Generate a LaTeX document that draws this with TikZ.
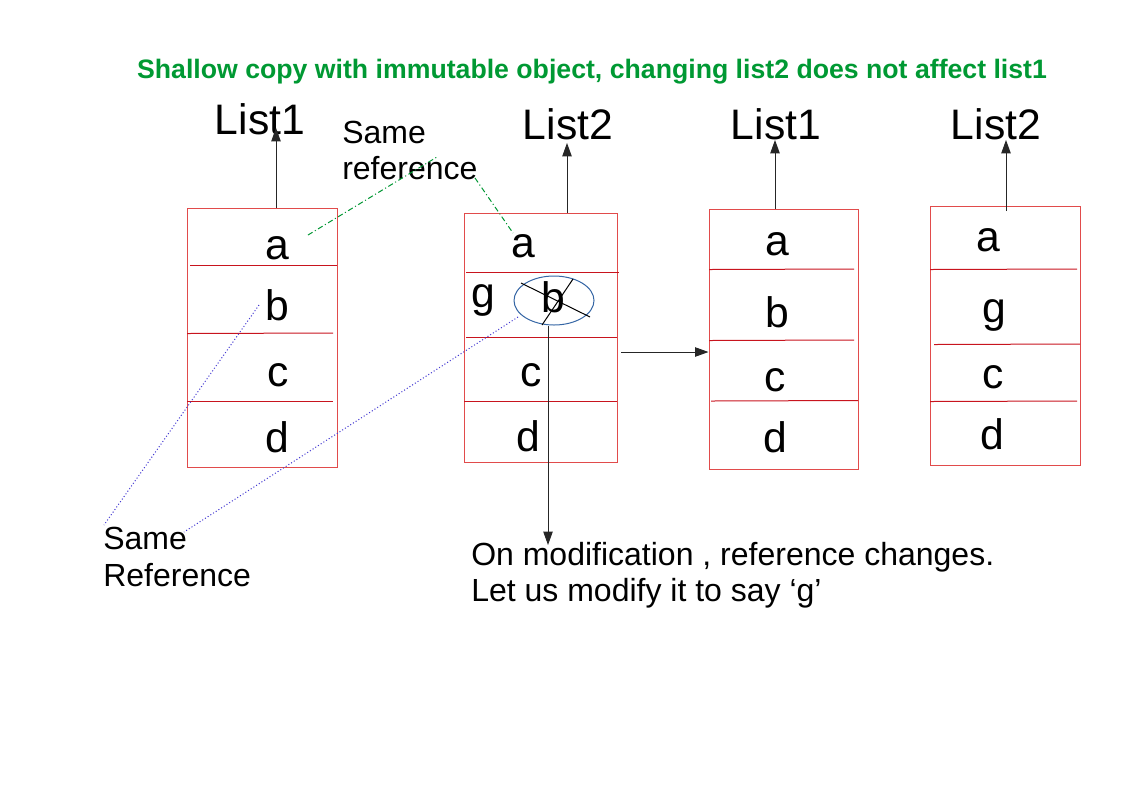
\documentclass[tikz,border=0pt]{standalone}
\usepackage{fontspec}
\setmainfont{Liberation Sans}
\usepackage{xcolor}
\usepackage{tikz}
\usetikzlibrary{arrows.meta, shapes.geometric}

\definecolor{titlegreen}{RGB}{0,153,51}
\definecolor{boxred}{RGB}{225,75,75}
\definecolor{linered}{RGB}{200,20,30}
\definecolor{ellblue}{RGB}{52,101,164}
\definecolor{refblue}{RGB}{70,60,210}
\definecolor{refgreen}{RGB}{0,150,50}

\tikzset{
	listbox/.style={draw=boxred, line width=0.75pt, rectangle, inner sep=0pt},
	divider/.style={draw=linered, line width=0.75pt},
	cell/.style={inner sep=0pt, font=\fontsize{32}{38}\selectfont},
	listname/.style={inner sep=0pt, font=\fontsize{32}{38}\selectfont},
	ptr/.style={draw=black!85, line width=0.75pt, -{Triangle[length=10pt, width=7pt]}},
	note/.style={inner sep=0pt, align=left, anchor=north west},
	samedot/.style={draw=refblue, line width=0.75pt, dash pattern=on 0.8pt off 1.6pt},
	samedash/.style={draw=refgreen, line width=0.75pt, dash pattern=on 4pt off 2pt on 0.8pt off 2pt}
}

\begin{document}
\begin{tikzpicture}[x=0.75pt, y=-0.75pt]
	\useasboundingbox (0,0) rectangle (1123,794);
	% Title:
	\node[inner sep=0pt, text=titlegreen, font=\bfseries\fontsize{20}{24}\selectfont] (title) at (592,71.5) {Shallow copy with immutable object, changing list2 does not affect list1};
	% Boxes and their cells:
	\node[listbox, minimum width=112.5pt, minimum height=194.25pt] (box1) at (262,337.5){};
	\node[listbox, minimum width=114.75pt, minimum height=186.75pt] (box2) at (540.5,337.5){};
	\node[listbox, minimum width=111.75pt, minimum height=195pt] (box3) at (783.5,339){};
	\node[listbox, minimum width=112.5pt, minimum height=194.25pt] (box4) at (1005,335.5){};
	\draw[divider] (190,265) -- (337,265);
	\draw[divider] (187,333.5) -- (333,333);
	\draw[divider] (187,401) -- (333,401);
	\draw[divider] (466,272.5) -- (619,272.5);
	\draw[divider] (466,337) -- (617,337);
	\draw[divider] (464,401) -- (617,401);
	\draw[divider] (709,269.5) -- (854,269);
	\draw[divider] (709,340.5) -- (854,340);
	\draw[divider] (711,401) -- (858,400.5);
	\draw[divider] (930,269.5) -- (1077,269);
	\draw[divider] (934,344.5) -- (1080,344);
	\draw[divider] (930,401.5) -- (1077,401);
	\node[cell] (a1) at (277,248){a};
	\node[cell] (b1) at (277,305){b};
	\node[cell] (c1) at (278,375){c};
	\node[cell] (d1) at (277,437){d};
	\node[cell] (a2) at (523,246){a};
	\node[cell] (g2) at (483,300){g};
	\node[cell] (b2) at (553,297){b};
	\node[cell] (c2) at (531,375){c};
	\node[cell] (d2) at (528,436){d};
	\node[cell] (a3) at (777,244){a};
	\node[cell] (b3) at (777,312){b};
	\node[cell] (c3) at (775,380){c};
	\node[cell] (d3) at (775,437){d};
	\node[cell] (a4) at (988,240){a};
	\node[cell] (g4) at (994,315){g};
	\node[cell] (c4) at (993,377){c};
	\node[cell] (d4) at (992,434){d};
	% Crossed out b:
	\node[draw=ellblue, line width=0.75pt, ellipse, minimum width=60pt, minimum height=36.75pt, inner sep=0pt] (oldb) at (554,300.5){};
	\draw[line width=0.75pt] (521,283) -- (590,317);
	\draw[line width=0.75pt] (542,325) -- (573,279);
	% List names and pointers:
	\node[listname] (lst1) at (260,119){List1};
	\node[listname] (lst2) at (568,124){List2};
	\node[listname] (lst3) at (776,124){List1};
	\node[listname] (lst4) at (996,124){List2};
	\coordinate (p1) at (276,208);
	\coordinate (p2) at (567,213);
	\coordinate (p3) at (775,209);
	\coordinate (p4) at (1006,211);
	\draw[ptr] (p1) -- ([yshift=5.25pt]p1 |- lst1.south);
	\draw[ptr] (p2) -- ([yshift=-2.25pt]p2 |- lst2.south);
	\draw[ptr] (p3) -- (p3 |- lst3.south);
	\draw[ptr] (p4) -- (p4 |- lst4.south);
	\coordinate (h1) at (621,352);
	\draw[ptr] (h1) -- (h1 -| box3.west);
	% Notes:
	\node[note, font=\fontsize{24}{27}\selectfont] (same1) at (342,121){Same\\reference};
	\node[note, font=\fontsize{24}{28}\selectfont] (same2) at (103,527){Same\\Reference};
	\node[note, font=\fontsize{24}{27}\selectfont] (modnote) at (471,542){On modification , reference changes.\\Let us modify it to say ‘g’};
	\coordinate (ob) at (548,326);
	\draw[ptr] (ob) -- ([yshift=-2.25pt]ob |- modnote.north);
	% Same reference lines:
	\coordinate (ga1) at (308,235);
	\coordinate (gr1) at (437,157);
	\coordinate (gr2) at (475,178);
	\coordinate (ga2) at (513,233);
	\draw[samedash] (ga1) -- (gr1);
	\draw[samedash] (gr2) -- (ga2);
	\coordinate (bb1) at (259,305);
	\coordinate (bs1) at (104,525);
	\coordinate (bb2) at (518,317);
	\coordinate (bs2) at (184,532);
	\draw[samedot] (bb1) -- (bs1);
	\draw[samedot] (bb2) -- (bs2);
\end{tikzpicture}
\end{document}
